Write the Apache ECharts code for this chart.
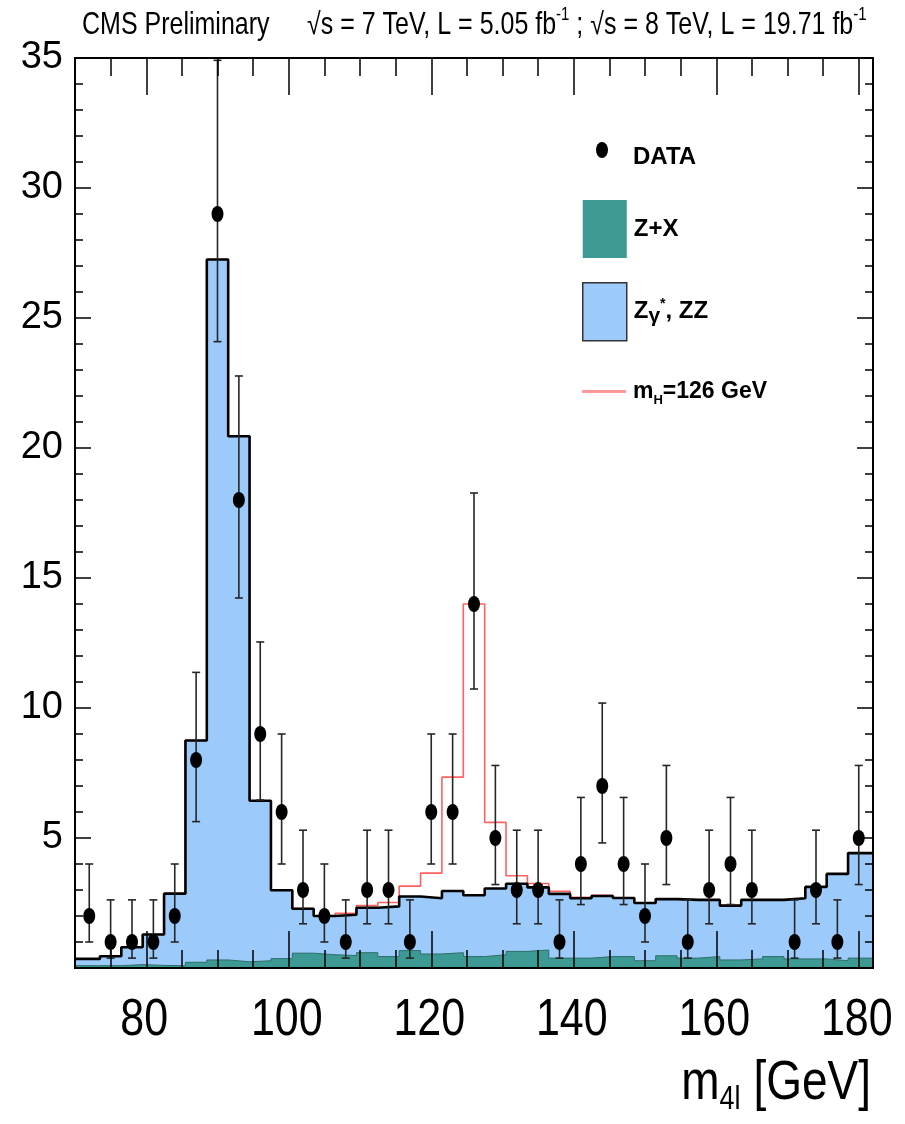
<!DOCTYPE html>
<html>
<head>
<meta charset="utf-8">
<title>m4l distribution</title>
<script src="https://cdn.jsdelivr.net/npm/echarts@6/dist/echarts.min.js"></script>
<style>
  html, body { margin: 0; padding: 0; background: #fff; }
  #chart { width: 905px; height: 1124px; }
</style>
</head>
<body>
<div id="chart"></div>
<script>
// m4l bin centres in GeV (3 GeV wide bins)
const binCenters = [72, 75, 78, 81, 84, 87, 90, 93, 96, 99, 102, 105, 108, 111, 114, 117, 120, 123, 126,
  129, 132, 135, 138, 141, 144, 147, 150, 153, 156, 159, 162, 165, 168, 171, 174, 177, 180];

// observed events per bin
const dataCounts = [2, 1, 1, 1, 2, 8, 29, 18, 9, 6, 3, 2, 1, 3, 3, 1, 6, 6, 14,
  5, 3, 3, 1, 4, 7, 4, 2, 5, 1, 3, 4, 3, 0, 1, 3, 1, 5];

// lower / upper ends of the data error bars
const dataErrLow = [1.00, 0.38, 0.38, 0.38, 1.00, 5.63, 24.09, 14.23, 6.46, 4.00, 1.70, 1.00, 0.38, 1.70, 1.70, 0.38, 4.00, 4.00, 10.73,
  3.21, 1.70, 1.70, 0.38, 2.44, 4.81, 2.44, 1.00, 3.21, 0.38, 1.70, 2.44, 1.70, null, 0.38, 1.70, 0.38, 3.21];
const dataErrHigh = [4.00, 2.62, 2.62, 2.62, 4.00, 11.37, 34.91, 22.77, 12.54, 9.00, 5.30, 4.00, 2.62, 5.30, 5.30, 2.62, 9.00, 9.00, 18.27,
  7.79, 5.30, 5.30, 2.62, 6.56, 10.19, 6.56, 4.00, 7.79, 2.62, 5.30, 6.56, 5.30, null, 2.62, 5.30, 2.62, 7.79];

// reducible background Z+X
const zxBkg = [0.09, 0.09, 0.13, 0.10, 0.09, 0.22, 0.31, 0.24, 0.28, 0.36, 0.57, 0.51, 0.48, 0.59, 0.44, 0.67, 0.54, 0.59, 0.44,
  0.51, 0.64, 0.69, 0.38, 0.38, 0.44, 0.44, 0.28, 0.47, 0.38, 0.44, 0.31, 0.35, 0.44, 0.35, 0.35, 0.28, 0.38];

// total background (Zgamma*, ZZ + Z+X)
const totalBkg = [0.35, 0.45, 0.80, 1.29, 2.86, 8.75, 27.25, 20.45, 6.43, 2.99, 2.28, 2.00, 2.05, 2.32, 2.37, 2.75, 2.68, 2.96, 2.80,
  3.06, 3.24, 3.10, 2.85, 2.68, 2.77, 2.69, 2.50, 2.65, 2.62, 2.62, 2.40, 2.62, 2.62, 2.68, 3.12, 3.62, 4.42];

// background plus SM Higgs signal, mH = 126 GeV
const totalSig = [0.35, 0.45, 0.80, 1.29, 2.86, 8.75, 27.25, 20.45, 6.43, 3.00, 2.29, 2.00, 2.10, 2.40, 2.52, 3.15, 3.65, 7.34, 14.00,
  5.60, 3.55, 3.25, 2.95, 2.72, 2.80, 2.69, 2.50, 2.65, 2.62, 2.62, 2.40, 2.62, 2.62, 2.68, 3.12, 3.62, 4.42];

// axis tick labels
const xTickLabels = [80, 100, 120, 140, 160, 180];
const yTickLabels = [5, 10, 15, 20, 25, 30, 35];

const X_MIN = 70, X_MAX = 182, Y_MIN = 0, Y_MAX = 35;
const BIN_HALF = 1.5;

// step-line points: each bin value holds from its low edge to the next one
function stepPoints(values) {
  const pts = [[X_MIN, values[0]]];
  for (let i = 1; i < values.length; i++) {
    pts.push([binCenters[i] - BIN_HALF, values[i]]);
  }
  pts.push([X_MAX, values[values.length - 1]]);
  return pts;
}

const minorXTicks = [];
for (let v = X_MIN; v <= 180; v += 5) minorXTicks.push(v);

const dataPoints = [];
const errorBars = [];
binCenters.forEach((c, i) => {
  if (dataCounts[i] > 0) {
    dataPoints.push([c, dataCounts[i]]);
    errorBars.push([c, dataErrLow[i], dataErrHigh[i]]);
  }
});

const FONT = '"Liberation Sans", Arial, Helvetica, sans-serif';
const ELLIPSE = 'path://M0,-8A6,8 0 1 1 0,8A6,8 0 1 1 0,-8Z';
// the typeface is drawn slightly tall
const STRETCH = 1.22;

const chart = echarts.init(document.getElementById('chart'), null, { renderer: 'canvas' });

function xAxisDef(position, ticks, len) {
  return {
    type: 'value', position: position, offset: 0, min: X_MIN, max: X_MAX, z: 10,
    axisLine: { show: true, onZero: false, lineStyle: { color: '#000', width: 2 } },
    axisTick: { show: true, inside: true, length: len, customValues: ticks, lineStyle: { color: '#000', width: 1.5 } },
    axisLabel: { show: false },
    splitLine: { show: false }
  };
}

function yAxisDef(position, showLabels) {
  return {
    type: 'value', position: position, offset: 0, min: Y_MIN, max: Y_MAX, interval: 5, z: 10,
    axisLine: { show: true, onZero: false, lineStyle: { color: '#000', width: 2 } },
    axisTick: { show: true, inside: true, length: 16, lineStyle: { color: '#000', width: 1.5 } },
    minorTick: { show: true, splitNumber: 5, length: 8, lineStyle: { color: '#000', width: 1.5 } },
    axisLabel: { show: showLabels, customValues: yTickLabels, margin: 12, fontFamily: FONT, fontSize: 38, color: '#000' },
    splitLine: { show: false }
  };
}

const legendRich = {
  b: { fontFamily: FONT, fontSize: 24, fontWeight: 'bold', color: '#000', lineHeight: 30 },
  g: { fontFamily: FONT, fontSize: 21, fontWeight: 'bold', color: '#000', lineHeight: 30, verticalAlign: 'bottom' },
  s: { fontFamily: FONT, fontSize: 14, fontWeight: 'bold', color: '#000', lineHeight: 30, verticalAlign: 'top' },
  h: { fontFamily: FONT, fontSize: 13, fontWeight: 'bold', color: '#000', lineHeight: 30, verticalAlign: 'bottom' },
  m: { fontFamily: FONT, fontSize: 23, fontWeight: 'bold', color: '#000', lineHeight: 30 }
};

const option = {
  animation: false,
  backgroundColor: '#fff',
  legend: [
    {
      left: 591, top: 137, itemWidth: 14, itemHeight: 16, selectedMode: false,
      data: [{ name: 'DATA', icon: ELLIPSE, itemStyle: { color: '#000', opacity: 1 } }],
      textStyle: { rich: legendRich, padding: [14, 0, 0, 19] },
      formatter: '{b|DATA}'
    },
    {
      left: 577, top: 195, orient: 'vertical', itemWidth: 44, itemHeight: 58, itemGap: 24, selectedMode: false,
      data: [
        { name: 'Z+X', icon: 'rect', itemStyle: { color: '#3d9993', borderWidth: 0 } },
        { name: 'Zγ*, ZZ', icon: 'rect', itemStyle: { color: '#9ccbfb', borderColor: '#333', borderWidth: 1.5 } }
      ],
      formatter: function (name) {
        if (name === 'Zγ*, ZZ') return '{b|Z}{g|γ}{s|*}{b|, ZZ}';
        return '{b|' + name + '}';
      },
      textStyle: { rich: legendRich, padding: [0, 0, 0, 2] }
    },
    {
      left: 577, top: 375, itemWidth: 44, itemHeight: 3, selectedMode: false,
      data: [{ name: 'mH=126 GeV', icon: 'rect', itemStyle: { color: '#ff9a9a' } }],
      formatter: function () { return '{m|m}{h|H}{m|=126 GeV}'; },
      textStyle: { rich: legendRich, padding: [0, 0, 0, 2] }
    }
  ],
  grid: { left: 75, right: 32, top: 58, bottom: 156, containLabel: false },
  xAxis: [
    xAxisDef('bottom', minorXTicks, 18),
    xAxisDef('bottom', xTickLabels, 37),
    xAxisDef('top', minorXTicks, 18),
    xAxisDef('top', xTickLabels, 37)
  ],
  yAxis: [yAxisDef('left', true), yAxisDef('right', false)],
  series: [
    {
      name: 'Zγ*, ZZ', type: 'line', step: 'end', z: 1,
      data: stepPoints(totalBkg), showSymbol: false, symbol: 'none',
      lineStyle: { width: 0, opacity: 0 },
      itemStyle: { color: '#9ccbfb' },
      areaStyle: { color: '#9ccbfb', opacity: 1 }
    },
    {
      name: 'Z+X', type: 'line', step: 'end', z: 2,
      data: stepPoints(zxBkg), showSymbol: false, symbol: 'none',
      lineStyle: { width: 1, color: '#2d6f6a' },
      itemStyle: { color: '#3d9993' },
      areaStyle: { color: '#3d9993', opacity: 1 }
    },
    {
      name: 'mH=126 GeV', type: 'line', step: 'end', z: 3,
      data: stepPoints(totalSig), showSymbol: false, symbol: 'none',
      lineStyle: { width: 1.6, color: '#ff6060' },
      itemStyle: { color: '#ff9a9a' }
    },
    {
      name: 'bkg-outline', type: 'line', step: 'end', z: 4,
      data: stepPoints(totalBkg), showSymbol: false, symbol: 'none',
      lineStyle: { width: 2.6, color: '#000' },
      itemStyle: { color: '#000' }
    },
    {
      name: 'DATA-err', type: 'custom', z: 5,
      data: errorBars,
      encode: { x: 0, y: [1, 2] },
      renderItem: function (params, api) {
        const x = api.value(0);
        const lo = api.coord([x, api.value(1)]);
        const hi = api.coord([x, api.value(2)]);
        const cap = 4;
        const style = { stroke: '#262626', lineWidth: 1.6 };
        return {
          type: 'group',
          children: [
            { type: 'line', shape: { x1: lo[0], y1: lo[1], x2: hi[0], y2: hi[1] }, style: style },
            { type: 'line', shape: { x1: lo[0] - cap, y1: lo[1], x2: lo[0] + cap, y2: lo[1] }, style: style },
            { type: 'line', shape: { x1: hi[0] - cap, y1: hi[1], x2: hi[0] + cap, y2: hi[1] }, style: style }
          ]
        };
      }
    },
    {
      name: 'DATA', type: 'scatter', z: 6,
      data: dataPoints,
      symbol: ELLIPSE, symbolSize: [12, 16],
      itemStyle: { color: '#000', opacity: 1 }
    }
  ]
};

chart.setOption(option);

// x tick labels, axis title and header text, placed from the axis scale
const axisY = chart.convertToPixel({ yAxisIndex: 0 }, Y_MIN);
const graphics = xTickLabels.map(function (v) {
  return {
    type: 'text', x: chart.convertToPixel({ xAxisIndex: 0 }, v) - 2, y: axisY + 53, scaleY: STRETCH,
    style: { text: String(v), fontFamily: FONT, fontSize: 43, fill: '#000', align: 'center', verticalAlign: 'middle' }
  };
});
graphics.push({
  type: 'text', x: chart.convertToPixel({ xAxisIndex: 0 }, X_MAX) - 2, y: axisY + 148, scaleY: STRETCH,
  style: {
    text: '{m|m}{s|4l}{m| [GeV]}', align: 'right', verticalAlign: 'bottom',
    rich: {
      m: { fontFamily: FONT, fontSize: 46, fill: '#000', lineHeight: 50, verticalAlign: 'top' },
      s: { fontFamily: FONT, fontSize: 27, fill: '#000', lineHeight: 50, verticalAlign: 'bottom' }
    }
  }
});
graphics.push({
  type: 'text', x: 82, y: 41, scaleY: STRETCH,
  style: { text: 'CMS Preliminary', fontFamily: FONT, fontSize: 25, fill: '#000', align: 'left', verticalAlign: 'bottom' }
});
graphics.push({
  type: 'text', x: 307, y: 41, scaleY: STRETCH,
  style: {
    text: '{t|√s = 7 TeV, L = 5.05 fb}{u|-1}{t| ; √s = 8 TeV, L = 19.71 fb}{u|-1}',
    align: 'left', verticalAlign: 'bottom',
    rich: {
      t: { fontFamily: FONT, fontSize: 25, fill: '#000', lineHeight: 29, verticalAlign: 'bottom' },
      u: { fontFamily: FONT, fontSize: 15, fill: '#000', lineHeight: 29, verticalAlign: 'top' }
    }
  }
});
chart.setOption({ graphic: graphics });
</script>
</body>
</html>
